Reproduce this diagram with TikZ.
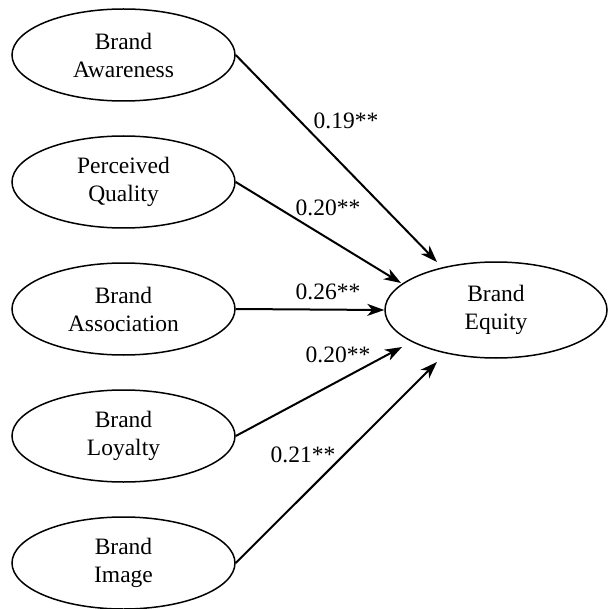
\documentclass[tikz,border=0pt]{standalone}
\usepackage{fontspec}
\setmainfont{Liberation Serif}
\usetikzlibrary{arrows.meta,shapes.geometric}
\begin{document}
\begin{tikzpicture}[x=1pt,y=-1pt,
  construct/.style={ellipse,draw,line width=1.5pt,inner sep=0pt,align=center,
    font=\fontsize{23.5}{28}\selectfont},
  srcvar/.style={construct,minimum width=223pt,minimum height=92pt},
  outvar/.style={construct,minimum width=222pt,minimum height=96pt},
  effect/.style={line width=2pt,-{Stealth[length=17pt,width=12pt,inset=5pt]}},
  coef/.style={font=\fontsize{23.5}{28}\selectfont,inner sep=0pt}]
\useasboundingbox (0,0) rectangle (607,609);

% exogenous constructs
\node[srcvar] (aw) at (123.5,55)  {Brand\\Awareness};
\node[srcvar] (pq) at (123.5,182) {Perceived\\Quality};
\node[srcvar] (as) at (123.5,309) {Brand\\Association};
\node[srcvar] (lo) at (123.5,436) {Brand\\Loyalty};
\node[srcvar] (im) at (123.5,563) {Brand\\Image};

% outcome construct
\node[outvar] (eq) at (496,310) {Brand\\Equity};

% arrow tip positions around the outcome ellipse
\coordinate (t1) at (437,262);
\coordinate (t2) at (401,283);
\coordinate (t4) at (402,347);
\coordinate (t5) at (437,362);

\draw[effect] (aw.east) -- (t1);
\draw[effect] (pq.east) -- (t2);
\draw[effect] (as.east) -- (eq.west);
\draw[effect] (lo.east) -- (t4);
\draw[effect] (im.east) -- (t5);

% path coefficients
\node[coef] (c1) at (346,121) {0.19**};
\node[coef] (c2) at (328,208) {0.20**};
\node[coef] (c3) at (328,292) {0.26**};
\node[coef] (c4) at (338,355) {0.20**};
\node[coef] (c5) at (303,455) {0.21**};
\end{tikzpicture}
\end{document}
